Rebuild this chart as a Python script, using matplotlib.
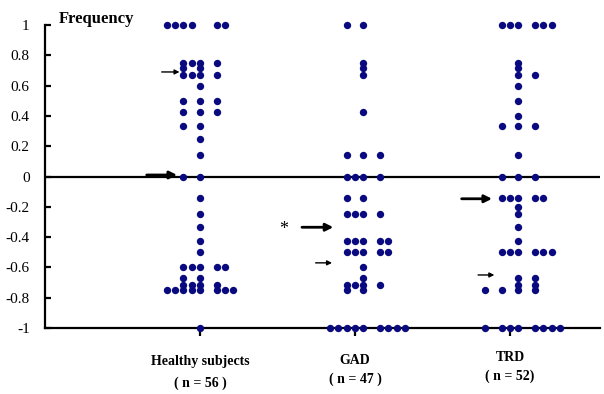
import numpy as np  # 数値計算用
import matplotlib
matplotlib.use('Agg')
import matplotlib.pyplot as plt  # グラフ描画用
from matplotlib.ticker import FuncFormatter


# --- データ（各群：頻度の値 -> 点を並べる列番号） ---
categories = ['Healthy subjects', 'GAD', 'TRD']
sample_sizes = ['( n = 56 )', '( n = 47 )', '( n = 52)']

healthy_rows = {
    1.0: [-4, -3, -2, -1, 2, 3],
    0.75: [-2, -1, 0, 2],
    0.714: [-2, 0],
    0.667: [-2, -1, 0, 2],
    0.6: [0],
    0.5: [-2, 0, 2],
    0.429: [-2, 0, 2],
    0.333: [-2, 0],
    0.25: [0],
    0.143: [0],
    0.0: [-2, 0],
    -0.143: [0],
    -0.25: [0],
    -0.333: [0],
    -0.429: [0],
    -0.5: [0],
    -0.6: [-2, -1, 0, 2, 3],
    -0.667: [-2, 0],
    -0.714: [-2, -1, 0, 2],
    -0.75: [-4, -3, -2, -1, 0, 2, 3, 4],
    -1.0: [0],
}

gad_rows = {
    1.0: [-1, 1],
    0.75: [1],
    0.714: [1],
    0.667: [1],
    0.429: [1],
    0.143: [-1, 1, 3],
    0.0: [-1, 0, 1, 3],
    -0.143: [-1, 1],
    -0.25: [-1, 0, 1, 3],
    -0.429: [-1, 0, 1, 3, 4],
    -0.5: [-1, 0, 1, 3, 4],
    -0.6: [1],
    -0.667: [1],
    -0.714: [-1, 0, 1, 3],
    -0.75: [-1, 1],
    -1.0: [-3, -2, -1, 0, 1, 3, 4, 5, 6],
}

trd_rows = {
    1.0: [-1, 0, 1, 3, 4, 5],
    0.75: [1],
    0.714: [1],
    0.667: [1, 3],
    0.6: [1],
    0.5: [1],
    0.4: [1],
    0.333: [-1, 1, 3],
    0.143: [1],
    0.0: [-1, 1, 3],
    -0.143: [-1, 0, 1, 3, 4],
    -0.2: [1],
    -0.25: [1],
    -0.333: [1],
    -0.429: [1],
    -0.5: [-1, 0, 1, 3, 4, 5],
    -0.667: [1, 3],
    -0.714: [1, 3],
    -0.75: [-3, -1, 1, 3],
    -1.0: [-3, -1, 0, 1, 3, 4, 5, 6],
}

# 矢印（始点x, 終点x, y, 太さ）
arrows = [
    (0.753, 0.868, 0.69, 'thin'),
    (0.656, 0.852, 0.01, 'thick'),
    (1.658, 1.860, -0.335, 'thick'),
    (1.746, 1.852, -0.57, 'thin'),
    (2.688, 2.884, -0.147, 'thick'),
    (2.794, 2.899, -0.65, 'thin'),
]

SERIF = ['Liberation Serif', 'DejaVu Serif']
DOT_COLOR = '#0a0a80'
SLOT = 8.3 / 155  # 点の横間隔（データ単位）


def rows_to_xy(rows, center):
    # 値ごとの列番号から点の座標を作る
    xs, ys = [], []
    for value, slots in rows.items():
        for s in slots:
            xs.append(center + s * SLOT)
            ys.append(value)
    return np.array(xs), np.array(ys)


def main():
    plt.rcParams['font.family'] = SERIF
    fig = plt.figure(figsize=(6.04, 3.94), dpi=100)
    ax = fig.add_axes([45 / 604, 66 / 394, 555 / 604, 303 / 394])
    ax.set_xlim(0, 555 / 155)
    ax.set_ylim(-1, 1)

    # 枠線
    for side in ['top', 'right']:
        ax.spines[side].set_visible(False)
    for side in ['left', 'bottom']:
        ax.spines[side].set_linewidth(1.6)
    ax.axhline(0, color='black', lw=1.6, zorder=2)

    # 点
    for i, rows in enumerate([healthy_rows, gad_rows, trd_rows]):
        xs, ys = rows_to_xy(rows, i + 1)
        ax.plot(xs, ys, 'o', color=DOT_COLOR, ms=5.3, mew=0,
                clip_on=False, zorder=4)

    # 目盛り
    yt = np.round(np.arange(-1, 1.01, 0.2), 1)
    ax.set_yticks(yt)
    ax.yaxis.set_major_formatter(FuncFormatter(lambda v, p: f'{v:g}' if abs(v) > 1e-9 else '0'))
    ax.tick_params(axis='y', direction='in', length=4, width=1.6,
                   labelsize=11, pad=11)
    ax.set_xticks([1, 2, 3])
    ax.set_xticklabels([])
    ax.tick_params(axis='x', direction='out', length=6, width=1.6)

    # 群ラベル
    tr = ax.get_xaxis_transform()
    name_y = [-0.112, -0.108, -0.099]
    n_y = [-0.181, -0.170, -0.160]
    for i, (name, n) in enumerate(zip(categories, sample_sizes)):
        ax.text(i + 1, name_y[i], name, transform=tr, ha='center', va='center',
                fontsize=10, fontweight='bold')
        ax.text(i + 1, n_y[i], n, transform=tr, ha='center', va='center',
                fontsize=10, fontweight='bold')

    # 矢印
    for x0, x1, y, kind in arrows:
        if kind == 'thick':
            props = dict(arrowstyle='-|>', lw=2.0, color='black', mutation_scale=11,
                         shrinkA=0, shrinkB=0)
        else:
            props = dict(arrowstyle='-|>', lw=1.0, color='black', mutation_scale=7,
                         shrinkA=0, shrinkB=0)
        ax.annotate('', xy=(x1, y), xytext=(x0, y), arrowprops=props,
                    annotation_clip=False)
    ax.text(1.542, -0.35, '*', ha='center', va='center', fontsize=13)

    fig.text(59 / 604, 375 / 394, 'Frequency', ha='left', va='center',
             fontsize=12, fontweight='bold')

    fig.savefig('out.png', dpi=100)
    plt.close(fig)


if __name__ == '__main__':
    main()
